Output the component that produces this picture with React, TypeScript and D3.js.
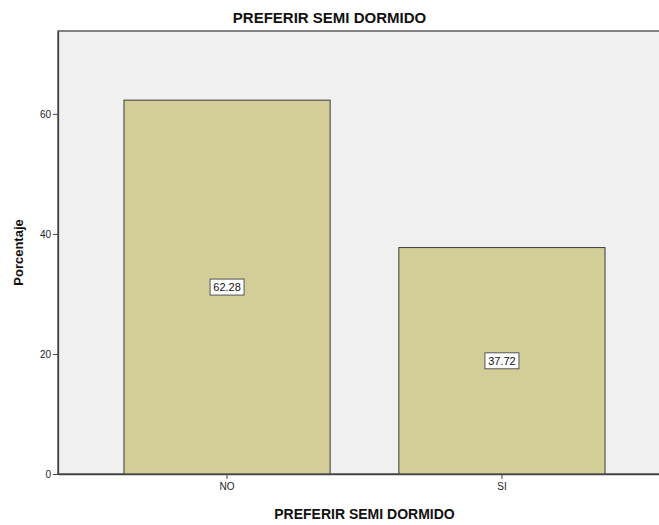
import React, { useEffect, useRef } from 'react';
import * as d3 from 'd3';

const categories = ['NO', 'SI'];
const percentages = [62.28, 37.72];
const yTicks = [0, 20, 40, 60];
const chartTitle = 'PREFERIR SEMI DORMIDO';
const xTitle = 'PREFERIR SEMI DORMIDO';
const yTitle = 'Porcentaje';

export default function App() {
  const svgRef = useRef<SVGSVGElement>(null);

  useEffect(() => {
    if (!svgRef.current) return;
    document.body.style.margin = '0';

    const width = 659;
    const height = 525;
    const plot = { left: 58, right: 671, top: 31, bottom: 474 };
    const font = '"Liberation Sans", Arial, sans-serif';

    const svg = d3.select(svgRef.current);
    svg.selectAll('*').remove();
    svg.attr('width', width).attr('height', height);

    const x = d3.scaleBand()
      .domain(categories)
      .range([plot.left, plot.right])
      .paddingInner(0.25)
      .paddingOuter(0.24);

    const y = d3.scaleLinear()
      .domain([0, 73.8])
      .range([plot.bottom, plot.top]);

    // plot background
    svg.append('rect')
      .attr('x', plot.left)
      .attr('y', plot.top)
      .attr('width', plot.right - plot.left)
      .attr('height', plot.bottom - plot.top)
      .attr('fill', '#f0f0f0')
      .attr('stroke', '#444')
      .attr('stroke-width', 1.3);

    // bars
    const data = categories.map((c, i) => ({ cat: c, value: percentages[i] }));
    svg.append('g')
      .selectAll('rect')
      .data(data)
      .enter()
      .append('rect')
      .attr('x', d => x(d.cat) || 0)
      .attr('y', d => y(d.value))
      .attr('width', x.bandwidth())
      .attr('height', d => y(0) - y(d.value))
      .attr('fill', '#d3ce97')
      .attr('stroke', '#3a3a3a')
      .attr('stroke-width', 1);

    // y axis
    const yAxis = svg.append('g')
      .attr('transform', `translate(${plot.left},0)`)
      .call(d3.axisLeft(y).tickValues(yTicks).tickSizeInner(5).tickSizeOuter(0).tickPadding(2).tickFormat(d3.format('d')));
    yAxis.select('.domain').attr('stroke', '#444').attr('stroke-width', 1.3);
    yAxis.selectAll('.tick line').attr('stroke', '#444');
    yAxis.selectAll('.tick text').attr('font-family', font).attr('font-size', 10).attr('fill', '#222');

    // x axis
    const xAxis = svg.append('g')
      .attr('transform', `translate(0,${plot.bottom})`)
      .call(d3.axisBottom(x).tickSizeInner(5).tickSizeOuter(0).tickPadding(4));
    xAxis.select('.domain').attr('stroke', '#444').attr('stroke-width', 1.3);
    xAxis.selectAll('.tick line').attr('stroke', '#444');
    xAxis.selectAll('.tick text').attr('font-family', font).attr('font-size', 10).attr('fill', '#222');

    // value labels
    const labels = svg.append('g')
      .selectAll('g')
      .data(data)
      .enter()
      .append('g')
      .attr('transform', d => `translate(${(x(d.cat) || 0) + x.bandwidth() / 2},${y(d.value / 2)})`);
    labels.append('rect')
      .attr('x', -17)
      .attr('y', -8)
      .attr('width', 34)
      .attr('height', 16)
      .attr('fill', '#fff')
      .attr('stroke', '#555')
      .attr('stroke-width', 1);
    labels.append('text')
      .attr('text-anchor', 'middle')
      .attr('dy', '0.35em')
      .attr('font-family', font)
      .attr('font-size', 11)
      .attr('fill', '#111')
      .text(d => d.value.toFixed(2));

    // titles
    svg.append('text')
      .attr('x', width / 2)
      .attr('y', 23)
      .attr('text-anchor', 'middle')
      .attr('font-family', font)
      .attr('font-weight', 'bold')
      .attr('font-size', 15)
      .attr('fill', '#111')
      .text(chartTitle);

    svg.append('text')
      .attr('x', (plot.left + plot.right) / 2)
      .attr('y', 519)
      .attr('text-anchor', 'middle')
      .attr('font-family', font)
      .attr('font-weight', 'bold')
      .attr('font-size', 14)
      .attr('fill', '#111')
      .text(xTitle);

    svg.append('text')
      .attr('transform', `translate(23,${(plot.top + plot.bottom) / 2}) rotate(-90)`)
      .attr('text-anchor', 'middle')
      .attr('font-family', font)
      .attr('font-weight', 'bold')
      .attr('font-size', 13)
      .attr('fill', '#111')
      .text(yTitle);
  }, []);

  return <svg ref={svgRef} style={{ display: 'block' }}></svg>;
}
